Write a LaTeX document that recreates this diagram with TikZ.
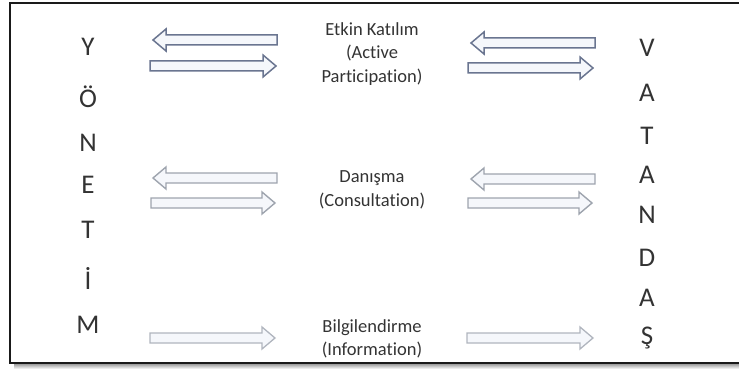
\documentclass[tikz,border=0pt]{standalone}
\usepackage{fontspec}
\setmainfont[Ligatures=NoCommon]{Carlito}
\definecolor{txtgray}{HTML}{333333}
\definecolor{edgeA}{HTML}{6A7590}
\definecolor{edgeB}{HTML}{9EA4AE}
\definecolor{edgeC}{HTML}{B0B5BE}
\definecolor{arrowfill}{HTML}{F5F7FB}
\definecolor{framecol}{HTML}{1A1A1A}

% block arrows: from x1 to x2 at height y, with a style
\newcommand\blockright[4]{%
  \draw[#4] (#1,#3-5) -- (#2-13,#3-5) -- (#2-13,#3-11) -- (#2,#3)
    -- (#2-13,#3+11) -- (#2-13,#3+5) -- (#1,#3+5) -- cycle;}
\newcommand\blockleft[4]{%
  \draw[#4] (#2,#3-5) -- (#1+13,#3-5) -- (#1+13,#3-11) -- (#1,#3)
    -- (#1+13,#3+11) -- (#1+13,#3+5) -- (#2,#3+5) -- cycle;}

\begin{document}
\begin{tikzpicture}[x=1pt,y=-1pt,
  letter/.style={font=\fontsize{27}{27}\selectfont, text=txtgray, inner sep=0pt, anchor=base},
  caption/.style={font=\fontsize{18.5}{23.5}\selectfont, text=txtgray, align=center, inner sep=0pt},
  arrA/.style={draw=edgeA, fill=arrowfill, line width=1.5pt, line join=miter},
  arrB/.style={draw=edgeB, fill=arrowfill, line width=1.4pt, line join=miter},
  arrC/.style={draw=edgeC, fill=arrowfill, line width=1.3pt, line join=miter}]
\useasboundingbox (0,0) rectangle (739,369);
\clip (0,0) rectangle (739,369);

% shadow and frame
\shade[top color=black!45, bottom color=white] (14,363) rectangle (745,369);
\draw[framecol, line width=2.6pt] (10,3) rectangle (750,363);

% left column: YÖNETİM
\foreach \ch/\yc [count=\i] in {Y/46.5, Ö/99, N/143, E/185, T/230, İ/281, M/325}
  \node[letter] (yon\i) at (88,\yc+8.7) {\ch};

% right column: VATANDAŞ
\foreach \ch/\yc [count=\i] in {V/47.5, A/92.5, T/135.5, A/175, N/214.5, D/257.5, A/297.5, Ş/335.5}
  \node[letter] (vat\i) at (647,\yc+8.7) {\ch};

% captions
\node[caption] (etkin) at (372,54) {Etkin Katılım\\(Active\\Participation)};
\node[caption] (danisma) at (372,190) {Danışma\\(Consultation)};
\node[caption] (bilgi) at (372,339) {Bilgilendirme\\(Information)};

% active participation arrows
\blockleft{153}{277}{40}{arrA}
\blockright{150}{276}{66}{arrA}
\blockleft{471}{595}{43}{arrA}
\blockright{468}{593}{68}{arrA}

% consultation arrows
\blockleft{153}{277}{178}{arrB}
\blockright{151}{275}{203}{arrB}
\blockleft{471}{595}{179}{arrB}
\blockright{468}{592}{203}{arrB}

% information arrows
\blockright{150}{275}{338}{arrC}
\blockright{467}{593}{338}{arrC}
\end{tikzpicture}
\end{document}
